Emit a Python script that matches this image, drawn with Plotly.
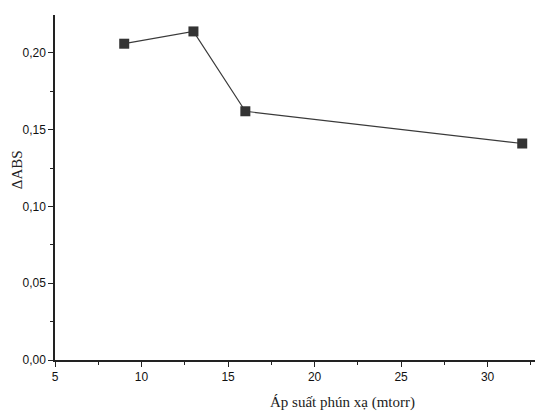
import plotly.graph_objects as go

pressure = [9, 13, 16, 32]
delta_abs = [0.206, 0.214, 0.162, 0.141]
x_ticks = [5, 10, 15, 20, 25, 30]
y_ticks = [0.00, 0.05, 0.10, 0.15, 0.20]
x_title = "Áp suất phún xạ (mtorr)"
y_title = "ΔABS"

fig = go.Figure()
fig.add_trace(go.Scatter(
    x=pressure, y=delta_abs, mode="lines+markers",
    line=dict(color="#3a3a3a", width=1.2),
    marker=dict(symbol="square", size=10, color="#333333"),
    showlegend=False, cliponaxis=False,
))

axis_common = dict(
    showgrid=False, zeroline=False, showline=True, linecolor="#222222", linewidth=1.5,
    ticks="outside", ticklen=5, tickwidth=1.3, tickcolor="#222222",
    tickfont=dict(family="Liberation Sans, Arial", size=12, color="#111111"),
    minor=dict(ticks="outside", ticklen=3, tickwidth=1, tickcolor="#222222"),
)

fig.update_xaxes(range=[5, 33.2], tickvals=x_ticks, minor_dtick=2.5, **axis_common)
fig.update_yaxes(range=[0, 0.2247], tickvals=y_ticks, tickformat=".2f", minor_dtick=0.025, **axis_common)

fig.add_annotation(text=x_title, xref="x", yref="paper", x=21.6, y=0, yshift=-42,
                   showarrow=False, yanchor="middle",
                   font=dict(family="Liberation Serif, Times New Roman", size=15, color="#222222"))
fig.add_annotation(text=y_title, xref="paper", yref="paper", x=0, xshift=-38, y=0.55,
                   showarrow=False, textangle=-90, xanchor="center",
                   font=dict(family="Liberation Serif, Times New Roman", size=15, color="#222222"))

fig.update_layout(
    width=535, height=403, separators=",.",
    margin=dict(l=47, r=0, t=7, b=51),
    plot_bgcolor="white", paper_bgcolor="white",
)
fig.write_html("out.html")
